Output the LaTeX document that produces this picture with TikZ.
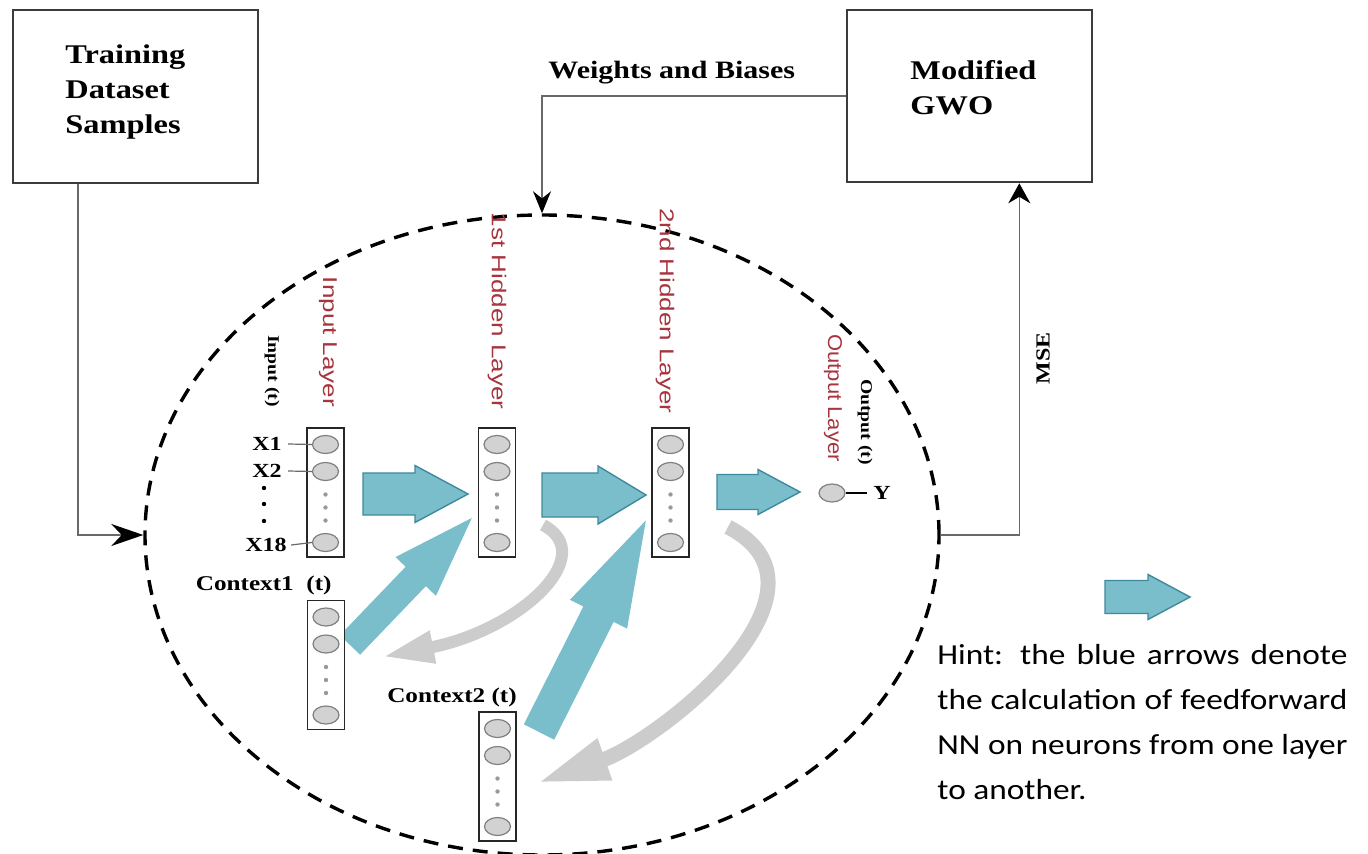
\documentclass[tikz,border=0pt]{standalone}
\usepackage{fontspec}
\setmainfont{Liberation Serif}
\newfontfamily\serfont[FakeStretch=1.2]{Liberation Serif}
\newfontfamily\labfont[FakeStretch=1.3]{Liberation Sans}
\newfontfamily\labfontn[FakeStretch=1.1]{Liberation Sans}
\newfontfamily\hintfont[FakeStretch=1.15]{Carlito}
\usetikzlibrary{shapes.geometric,arrows.meta,calc}
\definecolor{labred}{RGB}{168,52,62}
\definecolor{arrfill}{RGB}{122,190,204}
\definecolor{arrdraw}{RGB}{62,138,156}
\definecolor{arcgray}{RGB}{204,204,204}
\definecolor{neufill}{RGB}{210,210,210}
\definecolor{neudraw}{RGB}{128,128,128}
\definecolor{connc}{RGB}{105,105,105}
\definecolor{boxc}{RGB}{60,60,60}

\tikzset{
  bigbox/.style={draw=boxc, line width=1.3pt, fill=white, inner sep=0pt},
  boxtxt/.style={align=left, inner sep=0pt, font=\serfont\bfseries\fontsize{13.5}{17.5}\selectfont},
  netell/.style={ellipse, draw=black, line width=1.7pt, dash pattern=on 7.5pt off 5pt,
    minimum width=397pt, minimum height=320pt, inner sep=0pt},
  conn/.style={draw=connc, line width=0.8pt},
  wlab/.style={inner sep=0pt, font=\serfont\bfseries\fontsize{12.5}{15}\selectfont},
  mselab/.style={rotate=90, inner sep=0pt, font=\serfont\bfseries\fontsize{10}{12}\selectfont},
  lbox/.style={draw=black!85, line width=0.8pt, fill=white, minimum width=18.5pt, minimum height=64.5pt, inner sep=0pt},
  neuron/.style={ellipse, draw=neudraw, fill=neufill, line width=0.6pt, minimum width=13pt, minimum height=9pt, inner sep=0pt},
  dotc/.style={fill=gray!80},
  xlab/.style={inner sep=0pt, font=\serfont\bfseries\fontsize{10}{12}\selectfont},
  lab/.style={rotate=-90, inner sep=0pt, text=labred, font=\labfont\fontsize{10}{12}\selectfont},
  tlab/.style={rotate=-90, inner sep=0pt, font=\serfont\bfseries\fontsize{8.2}{10}\selectfont},
  ctx/.style={inner sep=0pt, font=\serfont\bfseries\fontsize{10.5}{12}\selectfont},
  bluearrow/.style={fill=arrfill, draw=arrdraw, line width=0.7pt, line join=miter},
  bluediag/.style={fill=arrfill, draw=none},
  grayarc/.style={draw=arcgray},
}

\newcommand\mklayer[3]{%
  \node[lbox] (#1) at (#2,#3) {};
  \node[neuron] (#1-1) at (#2,#3-48) {};
  \node[neuron] (#1-2) at (#2,#3-21) {};
  \node[neuron] (#1-3) at (#2,#3+50) {};
  \fill[dotc] (#2,#3+2) circle (1.1pt) (#2,#3+15) circle (1.1pt) (#2,#3+28) circle (1.1pt);
}
\newcommand\fatarrow[8]{%
  \begin{scope}[shift={(#1,#2)},rotate=#3]
    \path[#8] (0,-#6) -- (#4-#5,-#6) -- (#4-#5,-#7) -- (#4,0) -- (#4-#5,#7) -- (#4-#5,#6) -- (0,#6) -- cycle;
  \end{scope}%
}

\begin{document}
\begin{tikzpicture}[x=0.5pt,y=-0.5pt]
\useasboundingbox (0,0) rectangle (1368,854);
\fill[white] (0,0) rectangle (1368,854);

% top boxes
\node[bigbox, minimum width=122.5pt, minimum height=86.5pt] (train) at (135.5,96.5) {};
\node[boxtxt, anchor=west] (traint) at (65,92) {Training\\Dataset\\Samples};
\node[bigbox, minimum width=122.5pt, minimum height=86pt] (gwo) at (969.5,96) {};
\node[boxtxt, anchor=west] (gwot) at (910,87.5) {Modified\\GWO};

% network boundary
\node[netell] (net) at (542,535) {};

% connectors
\draw[conn,-{Stealth[length=16pt,width=11pt,color=black]}] ($(train.south west)+(66,0)$) |- (net.west);
\draw[conn,-{Stealth[length=11pt,width=9pt,color=black]}] (gwo.west) -| (net.north);
\draw[conn,-{Stealth[length=10pt,width=11pt,color=black]}] (net.east) -| ($(gwo.south east)+(-74,0)$);
\node[wlab, anchor=west] (wb) at (548,73) {Weights and Biases};
\node[mselab] (mse) at (1043,358) {MSE};

% gray recurrent arcs
\coordinate (g1s) at (543,525);
\coordinate (g1e) at (382,657);
\draw[grayarc, line width=6pt, -{Triangle[length=26pt,width=15pt]}] (g1s) .. controls (600,555) and (520,630) .. (g1e);
\coordinate (g2s) at (728,527);
\coordinate (g2e) at (537,783);
\draw[grayarc, line width=7.5pt, -{Triangle[length=36pt,width=20pt]}] (g2s) .. controls (850,590) and (660,740) .. (g2e);

% blue feedforward arrows
\fatarrow{363}{494}{0}{105}{53}{21}{28.5}{bluearrow}
\fatarrow{542}{495}{0}{104}{48}{22}{29}{bluearrow}
\fatarrow{717}{492}{0}{83}{42}{17.5}{22.5}{bluearrow}
\fatarrow{350}{645}{46.2}{176}{81}{14}{28}{bluediag}
\fatarrow{539}{732}{63.2}{237}{105}{17}{32}{bluediag}
\fatarrow{1105}{597}{0}{85}{42}{16.5}{22.5}{bluearrow}

% layers
\mklayer{in}{325.5}{492.5}
\mklayer{hA}{497}{492.5}
\mklayer{hB}{670.5}{492.5}
\mklayer{cA}{326}{665}
\mklayer{cB}{497.5}{776.5}

% inputs
\node[xlab] (x1) at (267,444) {X1};
\node[xlab] (x2) at (267,471) {X2};
\node[xlab] (x18) at (266,545) {X18};
\fill (264,488) circle (1.1pt) (264,504) circle (1.1pt) (264,521) circle (1.1pt);
\draw[connc, line width=0.6pt] ([xshift=3pt]x1.east) -- (in-1.west);
\draw[connc, line width=0.6pt] ([xshift=3pt]x2.east) -- (in-2.west);
\draw[connc, line width=0.6pt] ([xshift=2pt]x18.east) -- (in-3.west);

% output
\node[neuron] (out) at (832,493) {};
\node[xlab] (yl) at (882,493) {Y};
\draw[black, line width=0.6pt] (out.east) -- ([xshift=-3pt]yl.west);

% layer labels
\node[lab] (inl) at (328,342) {Input Layer};
\node[lab] (h1l) at (497,311) {1st Hidden Layer};
\node[lab] (h2l) at (665,311) {2nd Hidden Layer};
\node[lab, font=\labfontn\fontsize{10}{12}\selectfont] (outl) at (833,398) {Output Layer};
\node[tlab] (intl) at (272,371) {Input (t)};
\node[tlab] (outtl) at (865,422) {Output (t)};
\node[ctx, anchor=east] (c1l) at (332,585) {Context1\ \ (t)};
\node[ctx] (c2l) at (452,697) {Context2 (t)};

% hint
\node[anchor=north west, inner sep=0pt, align=left, font=\hintfont\fontsize{14.5}{22.5}\selectfont] (hint) at (937,644)
  {\makebox[205pt][s]{Hint: the blue arrows denote}\\
   \makebox[205pt][s]{the calculation of feedforward}\\
   \makebox[205pt][s]{NN on neurons from one layer}\\
   to another.};
\end{tikzpicture}
\end{document}
